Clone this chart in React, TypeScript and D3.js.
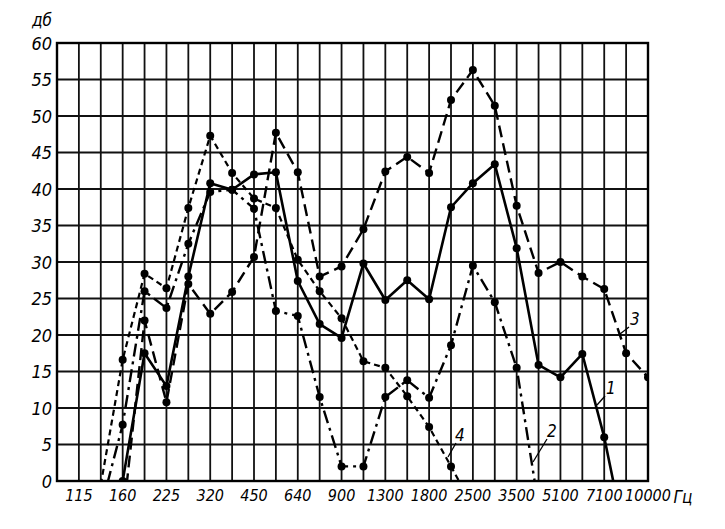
import React from "react";
import * as d3 from "d3";

// Grid positions (third-octave steps); labels on every other line
const freqLabels = ["", "115", "", "160", "", "225", "", "320", "", "450", "", "640", "", "900", "", "1300", "", "1800", "", "2500", "", "3500", "", "5100", "", "7100", "", "10000"];
const yTicks = [0, 5, 10, 15, 20, 25, 30, 35, 40, 45, 50, 55, 60];

// Series values per grid line (null = no data; below 0 = line leaves the axis)
const curve1 = [null, null, null, 0, 17.5, 13, 28, 40.8, 39.9, 42, 42.3, 27.4, 21.5, 19.6, 29.8, 24.8, 27.5, 24.9, 37.5, 40.8, 43.4, 31.9, 15.9, 14.2, 17.4, 6, -8.6, null];
const curve2 = [null, null, -3.8, 7.7, 26, 23.7, 32.5, 39.6, 39.9, 37.3, 23.3, 22.6, 11.5, 2, 2, 11.5, 13.8, 11.4, 18.6, 29.5, 24.5, 15.5, -3.4, null, null, null, null, null];
const curve3 = [null, null, null, -5.5, 22, 10.8, 27, 22.9, 25.9, 30.7, 47.7, 42.3, 28, 29.4, 34.5, 42.4, 44.4, 42.2, 52.2, 56.3, 51.4, 37.7, 28.5, 30, 28, 26.3, 17.5, 14.2];
const curve4 = [null, null, -0.5, 16.6, 28.4, 26.4, 37.4, 47.3, 42.2, 38.7, 37.4, 30.3, 26, 22.3, 16.4, 15.5, 11.6, 7.4, 2, -3.5, null, null, null, null, null, null, null, null];

const seriesList = [
  { name: "1", values: curve1, dash: "none", width: 2.6 },
  { name: "2", values: curve2, dash: "13,5,3,5", width: 2.4 },
  { name: "3", values: curve3, dash: "12,6", width: 2.4 },
  { name: "4", values: curve4, dash: "6,4", width: 2.2 },
];

const W = 725, H = 529;
const x0 = 57, x1 = 648, yTop = 43, yBot = 481;
const font = "'Liberation Sans Narrow', 'DejaVu Sans Condensed', 'Liberation Sans', sans-serif";

export default function App() {
  const x = d3.scaleLinear().domain([0, freqLabels.length - 1]).range([x0, x1]);
  const y = d3.scaleLinear().domain([0, 60]).range([yBot, yTop]);
  const line = d3
    .line<number | null>()
    .defined((d) => d !== null)
    .x((_, i) => x(i))
    .y((d) => y(d as number));

  return (
    <svg width={W} height={H} style={{ position: "absolute", left: 0, top: 0, background: "#fff" }}>
      <defs>
        <clipPath id="plot">
          <rect x={x0} y={yTop - 10} width={x1 - x0} height={yBot - yTop + 10} />
        </clipPath>
      </defs>
      {/* grid */}
      <g stroke="#111" strokeWidth={1.8}>
        {freqLabels.map((_, i) => (
          <line key={"v" + i} x1={x(i)} x2={x(i)} y1={yTop} y2={yBot} />
        ))}
        {yTicks.map((t) => (
          <line key={"h" + t} x1={x0} x2={x1} y1={y(t)} y2={y(t)} />
        ))}
      </g>
      <rect x={x0} y={yTop} width={x1 - x0} height={yBot - yTop} fill="none" stroke="#000" strokeWidth={2.4} />
      {/* y labels */}
      <g fontFamily={font} fontStyle="italic" fontSize={18} fill="#000" textAnchor="end">
        {yTicks.map((t) => (
          <text key={"yt" + t} x={52} y={y(t) + 6.5}>{t}</text>
        ))}
        <text x={52} y={26} fontSize={17}>дб</text>
      </g>
      {/* x labels */}
      <g fontFamily={font} fontStyle="italic" fontSize={16} fill="#000" textAnchor="middle">
        {freqLabels.map((l, i) =>
          l ? (
            <text key={"xt" + i} x={x(i)} y={501}>{l}</text>
          ) : null
        )}
        <text x={683} y={503} fontSize={17}>Гц</text>
      </g>
      {/* series */}
      <g clipPath="url(#plot)">
        {seriesList.map((s) => (
          <path key={"p" + s.name} d={line(s.values) || ""} fill="none" stroke="#000" strokeWidth={s.width} strokeDasharray={s.dash} strokeLinejoin="round" />
        ))}
        {seriesList.map((s) =>
          s.values.map((v, i) =>
            v !== null && v >= 0 ? <circle key={s.name + "c" + i} cx={x(i)} cy={y(v)} r={4} fill="#000" /> : null
          )
        )}
      </g>
      {/* curve labels */}
      <g fontFamily={font} fontStyle="italic" fontSize={17} fill="#000" stroke="none">
        <text x={606} y={394}>1</text>
        <text x={547} y={437}>2</text>
        <text x={630} y={325}>3</text>
        <text x={455} y={441}>4</text>
      </g>
      <g stroke="#000" strokeWidth={1.3}>
        <line x1={605} y1={396} x2={597} y2={405} />
        <line x1={547} y1={439} x2={533} y2={462} />
        <line x1={629} y1={327} x2={620} y2={334} />
        <line x1={456} y1={443} x2={448} y2={457} />
      </g>
    </svg>
  );
}
